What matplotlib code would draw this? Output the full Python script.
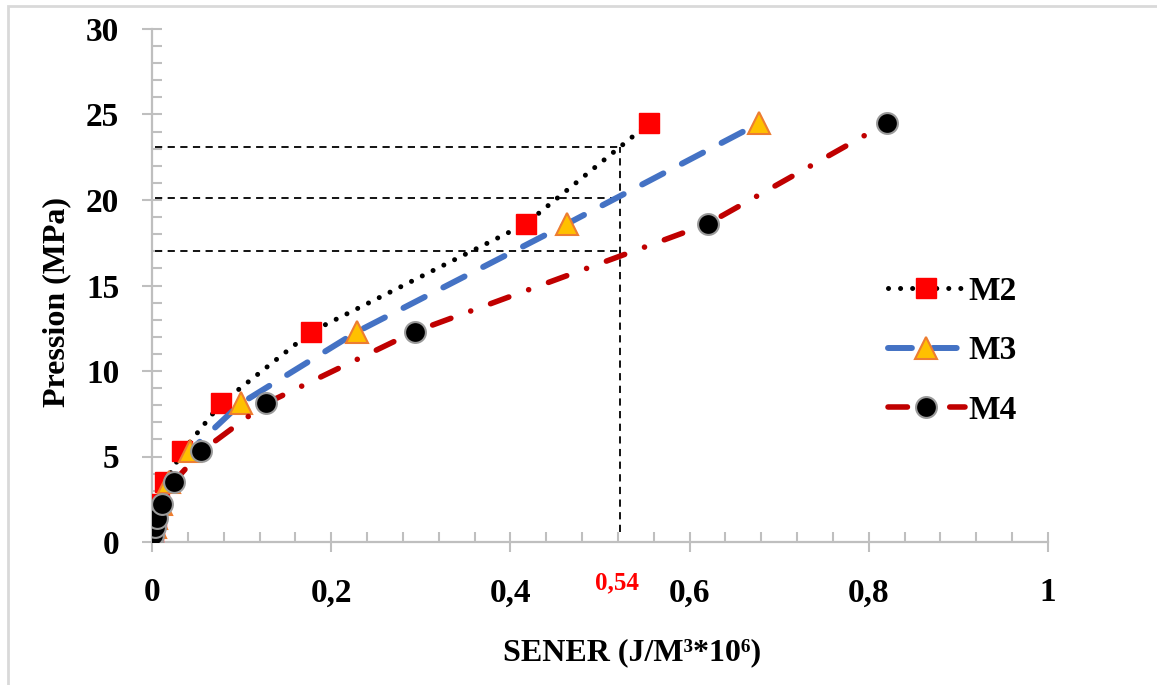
import numpy as np
import matplotlib
matplotlib.use("Agg")
import matplotlib.pyplot as plt
from matplotlib.patches import Rectangle
from matplotlib.ticker import MultipleLocator, FuncFormatter

# ==========================================================
# DATA
# ==========================================================

pression = [0, 0.4, 0.9, 1.4, 2.2, 3.5, 5.3, 8.1, 12.3, 18.6, 24.5]

sener_m2 = [0, 0.001, 0.002, 0.004, 0.008, 0.015, 0.034, 0.077, 0.178, 0.417, 0.555]
sener_m3 = [0, 0.001, 0.003, 0.005, 0.010, 0.019, 0.042, 0.099, 0.229, 0.463, 0.678]
sener_m4 = [0, 0.001, 0.003, 0.006, 0.011, 0.024, 0.055, 0.127, 0.293, 0.620, 0.820]

labels = ["M2", "M3", "M4"]

# reference lines (dashed)
ref_x = 0.522
ref_levels = [23.1, 20.1, 17.0]
ref_label = "0,54"

# ==========================================================
# FIGURE
# ==========================================================

serif = ["Liberation Serif", "DejaVu Serif"]
plt.rcParams["font.family"] = serif
plt.rcParams["font.weight"] = "bold"

fig = plt.figure(figsize=(11.57, 6.85), dpi=100)
ax = fig.add_axes([152/1157, 1-542/685, (1048-152)/1157, (542-29)/685])

grey = "#BFBFBF"

# dashed reference lines
ax.plot([ref_x, ref_x], [0.6, ref_levels[0]], color="black", lw=1.3,
        linestyle=(0, (4, 3)), zorder=2)
for lv in ref_levels:
    ax.plot([0.003, ref_x], [lv, lv], color="black", lw=1.3,
            linestyle=(0, (4, 3)), zorder=2)

# series
ax.plot(sener_m2, pression, color="black", lw=3.6,
        linestyle=(0, (0.01, 2.4)), dash_capstyle="round",
        marker="s", markersize=14, markerfacecolor="#FF0000",
        markeredgecolor="#FF0000", label=labels[0], zorder=3)

ax.plot(sener_m3, pression, color="#4472C4", lw=4.3,
        linestyle=(0, (4, 3.5)), dash_capstyle="round",
        marker="^", markersize=16, markerfacecolor="#FFC000",
        markeredgecolor="#ED7D31", markeredgewidth=1.5,
        label=labels[1], zorder=4)

ax.plot(sener_m4, pression, color="#C00000", lw=4.0,
        linestyle=(0, (3.5, 3.8, 0.01, 3.8)), dash_capstyle="round",
        marker="o", markersize=15, markerfacecolor="black",
        markeredgecolor="#9A9A9A", markeredgewidth=1.5,
        label=labels[2], zorder=5)

# ==========================================================
# AXES STYLE
# ==========================================================

ax.set_xlim(0, 1)
ax.set_ylim(0, 30)

ax.xaxis.set_major_locator(MultipleLocator(0.2))
ax.xaxis.set_minor_locator(MultipleLocator(0.04))
ax.yaxis.set_major_locator(MultipleLocator(5))
ax.yaxis.set_minor_locator(MultipleLocator(1))

ax.xaxis.set_major_formatter(
    FuncFormatter(lambda v, p: f"{v:g}".replace(".", ","))
)

for s in ["top", "right"]:
    ax.spines[s].set_visible(False)
for s in ["left", "bottom"]:
    ax.spines[s].set_color(grey)
    ax.spines[s].set_linewidth(1.6)

ax.tick_params(which="major", direction="inout", length=15, width=1.5,
               color=grey, labelsize=24)
ax.tick_params(which="minor", direction="in", length=7, width=1.5,
               color=grey)
ax.tick_params(axis="x", which="major", pad=18)
ax.tick_params(axis="y", which="major", pad=16)

for t in ax.get_xticklabels() + ax.get_yticklabels():
    t.set_fontweight("bold")

fig.text(57/1157, 1-302/685, "Pression (MPa)", fontsize=23,
         fontweight="bold", rotation=90, ha="center", va="center")

fig.text(632/1157, 1-653/685, "SENER (J/M³*10⁶)", fontsize=23,
         fontweight="bold", ha="center", va="center", family=serif)

fig.text(617/1157, 1-583/685, ref_label, fontsize=18, fontweight="bold",
         color="#FF0000", ha="center", va="center")

leg = ax.legend(loc="upper left", bbox_to_anchor=(888/1157, 1-276/685),
                bbox_transform=fig.transFigure, frameon=False,
                fontsize=24, handlelength=2.3, handletextpad=0.1,
                labelspacing=0.85, borderpad=0, borderaxespad=0)
for t in leg.get_texts():
    t.set_fontweight("bold")

# figure border
fig.patches.append(Rectangle((8/1157, -0.2), 2, 1-6/685+0.2,
                             transform=fig.transFigure, fill=False,
                             edgecolor="#D9D9D9", lw=2))

plt.savefig("out.png", dpi=100)
